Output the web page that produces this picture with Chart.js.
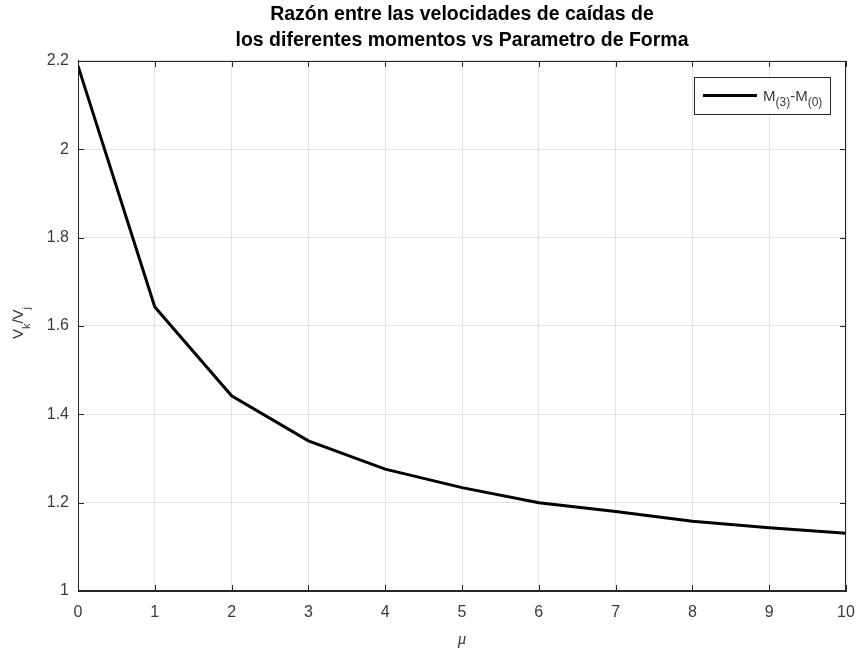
<!DOCTYPE html>
<html>
<head>
<meta charset="utf-8">
<script src="https://cdn.jsdelivr.net/npm/chart.js@4.4.1/dist/chart.umd.min.js"></script>
<style>
  html, body { margin: 0; padding: 0; background: #ffffff; }
  #wrap { width: 857px; height: 652px; }
</style>
</head>
<body>
<div id="wrap"><canvas id="c" width="857" height="652"></canvas></div>
<script>
// Shape parameter mu and the fall-speed ratio V_k/V_j for M(3)-M(0)
const muValues = [0, 1, 2, 3, 4, 5, 6, 7, 8, 9, 10];
const ratioValues = [2.189, 1.643, 1.442, 1.340, 1.276, 1.234, 1.200, 1.180, 1.158, 1.143, 1.131];
const xTicks = [0, 1, 2, 3, 4, 5, 6, 7, 8, 9, 10];
const yTicks = [1, 1.2, 1.4, 1.6, 1.8, 2, 2.2];
const titleLines = ['Razón entre las velocidades de caídas de', 'los diferentes momentos vs Parametro de Forma'];

const AXIS_COLOR = '#262626';
const TEXT_COLOR = '#3a3a3a';
const GRID_COLOR = '#e3e3e3';
const SANS = '"Liberation Sans", Arial, Helvetica, sans-serif';

// Draws the closed axes box, inward tick marks, the y label with subscripts and the legend
const matlabAxes = {
  id: 'matlabAxes',
  afterDraw(chart) {
    const { ctx, chartArea: a, scales: { x, y } } = chart;
    ctx.save();
    ctx.strokeStyle = AXIS_COLOR;
    ctx.lineWidth = 1;
    ctx.strokeRect(Math.round(a.left) + 0.5, Math.round(a.top) + 0.5,
                   Math.round(a.right - a.left) - 1, Math.round(a.bottom - a.top) - 1);
    const tl = 6;
    ctx.beginPath();
    xTicks.forEach(v => {
      const px = Math.round(x.getPixelForValue(v)) + 0.5;
      ctx.moveTo(px, a.bottom); ctx.lineTo(px, a.bottom - tl);
      ctx.moveTo(px, a.top); ctx.lineTo(px, a.top + tl);
    });
    yTicks.forEach(v => {
      const py = Math.round(y.getPixelForValue(v)) + 0.5;
      ctx.moveTo(a.left, py); ctx.lineTo(a.left + tl, py);
      ctx.moveTo(a.right, py); ctx.lineTo(a.right - tl, py);
    });
    ctx.stroke();

    // y-axis label V_k/V_j
    ctx.save();
    ctx.translate(23, 323);
    ctx.rotate(-Math.PI / 2);
    ctx.fillStyle = TEXT_COLOR;
    ctx.textBaseline = 'alphabetic';
    const big = '15px ' + SANS, small = '11px ' + SANS;
    const parts = [['V', big, 0], ['k', small, 7], ['/V', big, 0], ['j', small, 7]];
    let total = 0;
    parts.forEach(p => { ctx.font = p[1]; total += ctx.measureText(p[0]).width; });
    let cx = -total / 2;
    parts.forEach(p => {
      ctx.font = p[1];
      ctx.fillText(p[0], cx, p[2]);
      cx += ctx.measureText(p[0]).width;
    });
    ctx.restore();

    // legend box
    const lx = 694, ly = 77, lw = 136, lh = 37;
    ctx.fillStyle = '#ffffff';
    ctx.fillRect(lx, ly, lw, lh);
    ctx.strokeStyle = AXIS_COLOR;
    ctx.lineWidth = 1;
    ctx.strokeRect(lx + 0.5, ly + 0.5, lw, lh);
    ctx.strokeStyle = '#000000';
    ctx.lineWidth = 3;
    ctx.beginPath();
    ctx.moveTo(lx + 9, ly + 18.5);
    ctx.lineTo(lx + 63, ly + 18.5);
    ctx.stroke();
    ctx.fillStyle = TEXT_COLOR;
    const lparts = [['M', '15px ' + SANS, 0], ['(3)', '12px ' + SANS, 5], ['-M', '15px ' + SANS, 0], ['(0)', '12px ' + SANS, 5]];
    let tx = lx + 69;
    lparts.forEach(p => {
      ctx.font = p[1];
      ctx.fillText(p[0], tx, ly + 24 + p[2]);
      tx += ctx.measureText(p[0]).width;
    });
    ctx.restore();
  }
};

new Chart(document.getElementById('c'), {
  type: 'line',
  data: {
    datasets: [{
      label: 'M(3)-M(0)',
      data: muValues.map((m, i) => ({ x: m, y: ratioValues[i] })),
      borderColor: '#000000',
      borderWidth: 3,
      pointRadius: 0,
      tension: 0,
      fill: false
    }]
  },
  options: {
    responsive: false,
    animation: false,
    devicePixelRatio: 1,
    layout: { padding: { left: 0, right: 11, top: 0, bottom: 0 } },
    plugins: {
      legend: { display: false },
      tooltip: { enabled: false },
      title: {
        display: true,
        text: titleLines,
        fullSize: false,
        color: '#000000',
        font: { family: SANS, size: 19.5, weight: 'bold', lineHeight: 1.333 },
        padding: { top: 2, bottom: 7 }
      }
    },
    scales: {
      x: {
        type: 'linear',
        min: 0,
        max: 10,
        afterBuildTicks: s => { s.ticks = xTicks.map(v => ({ value: v })); },
        afterFit: s => { s.height = 61; s.paddingLeft = 0; s.paddingRight = 0; },
        grid: { color: GRID_COLOR, drawTicks: false },
        border: { color: AXIS_COLOR },
        ticks: { color: TEXT_COLOR, font: { family: SANS, size: 16 }, padding: 12, maxRotation: 0 },
        title: {
          display: true,
          text: 'μ',
          color: TEXT_COLOR,
          font: { family: '"Liberation Serif", "Times New Roman", serif', size: 17, style: 'italic' },
          padding: { top: 0, bottom: 2 }
        }
      },
      y: {
        type: 'linear',
        min: 1,
        max: 2.2,
        afterBuildTicks: s => { s.ticks = yTicks.map(v => ({ value: v })); },
        afterFit: s => { s.width = 78; s.paddingTop = 0; s.paddingBottom = 0; },
        grid: { color: GRID_COLOR, drawTicks: false },
        border: { color: AXIS_COLOR },
        ticks: {
          color: TEXT_COLOR,
          font: { family: SANS, size: 16 },
          padding: 9,
          callback: v => String(Math.round(v * 10) / 10)
        }
      }
    }
  },
  plugins: [matlabAxes]
});
</script>
</body>
</html>
